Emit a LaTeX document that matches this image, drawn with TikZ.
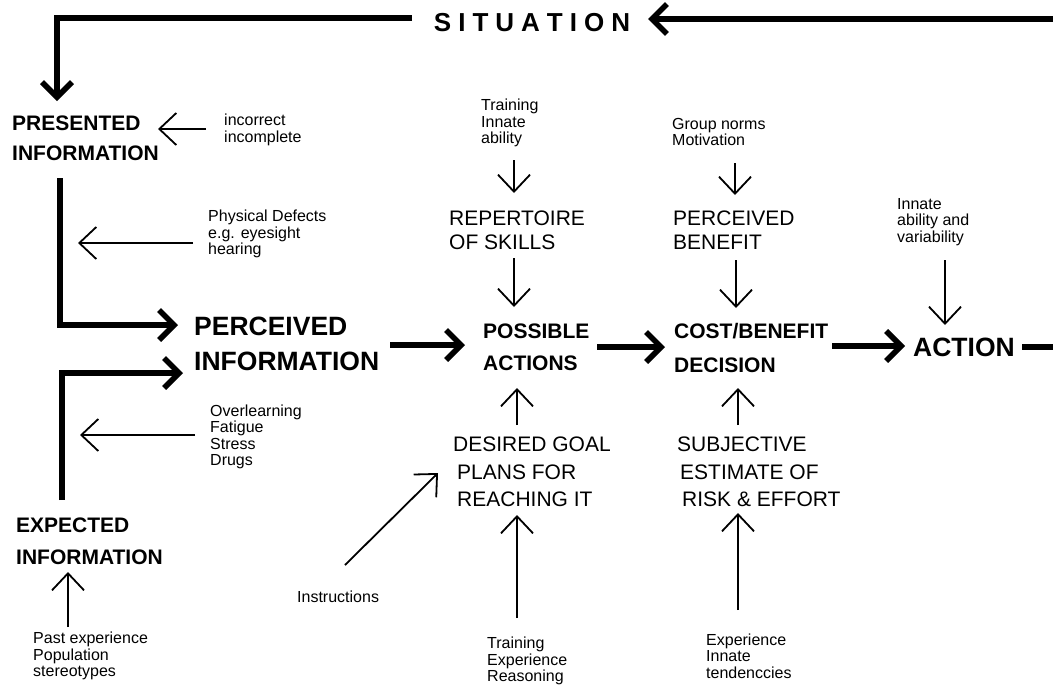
\documentclass[tikz,border=0pt]{standalone}
\usepackage{fontspec}
\setmainfont{Liberation Sans}
\usetikzlibrary{arrows.meta}
\begin{document}
\begin{tikzpicture}[x=1pt,y=-1pt,
  every node/.style={inner sep=0pt, anchor=west, align=left},
  boldlabel/.style={font=\fontsize{21}{30}\selectfont\bfseries},
  widebold/.style={font=\fontsize{21}{32}\selectfont\bfseries},
  largebold/.style={font=\fontsize{26.5}{35}\selectfont\bfseries},
  plainlabel/.style={font=\fontsize{21}{24}\selectfont},
  tallplain/.style={font=\fontsize{21}{27.5}\selectfont},
  note/.style={font=\fontsize{16}{16.5}\selectfont},
  thinarrow/.style={line width=1.8pt, -{Straight Barb[length=17pt,width=32pt]}},
  flowarrow/.style={line width=5.5pt, -{Straight Barb[length=15pt,width=30pt]}},
  flowline/.style={line width=5.5pt}
]
\useasboundingbox (0,0) rectangle (1053,686);

% ---- main labels ----
\node[font=\fontsize{26}{26}\selectfont\bfseries, anchor=center] (sit) at (532,23)
  {S\kern7pt I\kern7pt T\kern7pt U\kern7pt A\kern7pt T\kern7pt I\kern7pt O\kern7pt N};
\node[boldlabel] (pres) at (12,138) {PRESENTED\\INFORMATION};
\node[largebold] (perc) at (194,344) {PERCEIVED\\INFORMATION};
\node[widebold] (exp) at (16,541) {EXPECTED\\INFORMATION};
\node[plainlabel] (rep) at (449,230) {REPERTOIRE\\OF SKILLS};
\node[plainlabel] (pben) at (673,230) {PERCEIVED\\BENEFIT};
\node[widebold] (pos) at (483,347) {POSSIBLE\\ACTIONS};
\node[font=\fontsize{21}{34}\selectfont\bfseries] (cb) at (674,348) {COST/BENEFIT\\DECISION};
\node[largebold] (act) at (913,347) {ACTION};
\node[tallplain] (goal) at (453,472) {DESIRED GOAL\\\hspace*{4pt}PLANS FOR\\\hspace*{4pt}REACHING IT};
\node[tallplain] (risk) at (677,472) {SUBJECTIVE\\\hspace*{3pt}ESTIMATE OF\\\hspace*{5pt}RISK \& EFFORT};

% ---- influencing factors ----
\node[note] (incor) at (224,130) {incorrect\\incomplete};
\node[note] (phys) at (208,234) {Physical Defects\\e.g. eyesight\\hearing};
\node[note] (over) at (210,437) {Overlearning\\Fatigue\\Stress\\Drugs};
\node[note] (past) at (33,656) {Past experience\\Population\\stereotypes};
\node[note] (instr) at (297,597) {Instructions};
\node[note] (tia) at (481,123) {Training\\Innate\\ability};
\node[note] (grp) at (672,132) {Group norms\\Motivation};
\node[note] (inn) at (897,222) {Innate\\ability and\\variability};
\node[note] (ter) at (487,661) {Training\\Experience\\Reasoning};
\node[note] (eit) at (706,656) {Experience\\Innate\\tendenccies};

% free ends of the loop and of the side influences
\coordinate (edgeR) at (1056,347);
\coordinate (edgeT) at (1056,19);
\coordinate (physTip) at (78,243);
\coordinate (overTip) at (80,435);

% ---- thin influence arrows ----
\draw[thinarrow] ([shift={(-18,-1)}]incor.west) -- ([shift={(146,-9)}]pres.west);
\draw[thinarrow] ([shift={(-15,9)}]phys.west) -- (physTip);
\draw[thinarrow] ([shift={(-15,-2)}]over.west) -- (overTip);
\draw[thinarrow] ([shift={(35,-29)}]past.west) -- ([shift={(52,31)}]exp.west);
\draw[thinarrow] ([shift={(48,-32)}]instr.west) -- ([shift={(-15,1)}]goal.west);
\draw[thinarrow] ([shift={(30,-43)}]ter.west) -- ([shift={(64,43)}]goal.west);
\draw[thinarrow] ([shift={(32,-46)}]eit.west) -- ([shift={(61,41)}]risk.west);
\draw[thinarrow] ([shift={(64,-47)}]goal.west) -- ([shift={(34,41)}]pos.west);
\draw[thinarrow] ([shift={(61,-47)}]risk.west) -- ([shift={(64,40)}]cb.west);
\draw[thinarrow] ([shift={(33,37)}]tia.west) -- ([shift={(65,-37)}]rep.west);
\draw[thinarrow] ([shift={(65,28)}]rep.west) -- ([shift={(31,-40)}]pos.west);
\draw[thinarrow] ([shift={(63,31)}]grp.west) -- ([shift={(62,-35)}]pben.west);
\draw[thinarrow] ([shift={(63,30)}]pben.west) -- ([shift={(62,-40)}]cb.west);
\draw[thinarrow] ([shift={(48,38)}]inn.west) -- ([shift={(32,-22)}]act.west);

% ---- main flow ----
\draw[flowarrow] ([shift={(196,1)}]perc.west) -- ([shift={(-18,-2)}]pos.west);
\draw[flowarrow] ([shift={(114,0)}]pos.west) -- ([shift={(-9,-1)}]cb.west);
\draw[flowarrow] ([shift={(158,-2)}]cb.west) -- ([shift={(-8,-1)}]act.west);
\draw[flowline] ([shift={(109,0)}]act.west) -- (edgeR);
\draw[flowarrow] (edgeT) -- ([shift={(116,-4)}]sit.center);
\draw[flowarrow] ([shift={(-120,-5)}]sit.center) -| ([shift={(45,-37)}]pres.west);
\draw[flowarrow] ([shift={(48,40)}]pres.west) |- ([shift={(-16,-19)}]perc.west);
\draw[flowarrow] ([shift={(46,-41)}]exp.west) |- ([shift={(-11,29)}]perc.west);
\end{tikzpicture}
\end{document}
